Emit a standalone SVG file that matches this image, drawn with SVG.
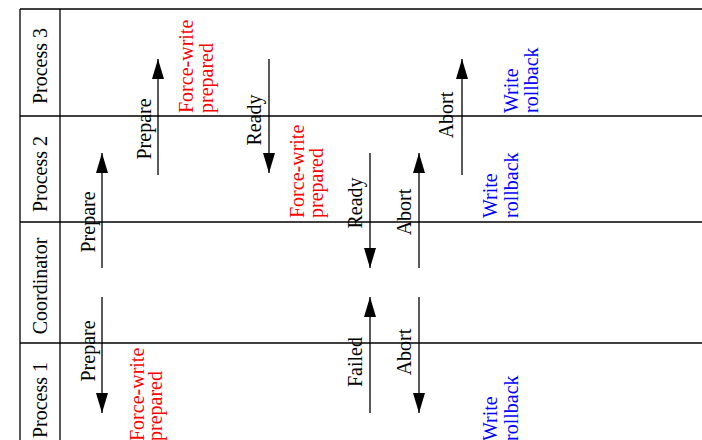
<svg xmlns="http://www.w3.org/2000/svg" width="702" height="440" viewBox="0 0 702 440">
  <style>
    .grid { stroke: #000; stroke-width: 1.3; fill: none; }
    .msg { stroke: #000; stroke-width: 1.3; fill: none; marker-end: url(#head); }
    text { font-family: "Liberation Serif", "Times New Roman", serif; font-size: 20px; }
    .lane { fill: #000; text-anchor: middle; }
    .lbl { fill: #000; text-anchor: middle; }
    .force { fill: #ff0000; }
    .roll { fill: #0000ff; }
  </style>
  <defs>
    <marker id="head" markerUnits="userSpaceOnUse" markerWidth="20" markerHeight="12" refX="20" refY="6" orient="auto">
      <path d="M0,0 L20,6 L0,12 Z" fill="#000"/>
    </marker>
  </defs>
  <rect width="702" height="440" fill="#fff"/>

  <!-- swimlane grid -->
  <g id="grid">
    <line class="grid" x1="20" y1="9" x2="702" y2="9"/>
    <line class="grid" x1="20" y1="116" x2="702" y2="116"/>
    <line class="grid" x1="20" y1="222" x2="702" y2="222"/>
    <line class="grid" x1="20" y1="343" x2="702" y2="343"/>
    <line class="grid" x1="20" y1="9" x2="20" y2="440"/>
    <line class="grid" x1="60" y1="9" x2="60" y2="440"/>
  </g>

  <!-- lane titles -->
  <g id="lane-process3"><text class="lane" transform="translate(47,66) rotate(-90)">Process 3</text></g>
  <g id="lane-process2"><text class="lane" transform="translate(47,174) rotate(-90)">Process 2</text></g>
  <g id="lane-coordinator"><text class="lane" transform="translate(47,286) rotate(-90)">Coordinator</text></g>
  <g id="lane-process1"><text class="lane" transform="translate(47,400) rotate(-90)">Process 1</text></g>

  <!-- messages -->
  <g id="connectors">
    <line class="msg" x1="102" y1="268" x2="102" y2="153"/>
    <line class="msg" x1="102" y1="297" x2="102" y2="413"/>
    <line class="msg" x1="158" y1="175" x2="158" y2="59"/>
    <line class="msg" x1="269" y1="59" x2="269" y2="173"/>
    <line class="msg" x1="370" y1="153" x2="370" y2="268"/>
    <line class="msg" x1="419" y1="268" x2="419" y2="153"/>
    <line class="msg" x1="462" y1="175" x2="462" y2="59"/>
    <line class="msg" x1="370" y1="413" x2="370" y2="297"/>
    <line class="msg" x1="419" y1="297" x2="419" y2="413"/>
  </g>

  <!-- message labels -->
  <g id="labels">
    <text class="lbl" transform="translate(95,222) rotate(-90)">Prepare</text>
    <text class="lbl" transform="translate(95,351) rotate(-90)">Prepare</text>
    <text class="lbl" transform="translate(151,129) rotate(-90)">Prepare</text>
    <text class="lbl" transform="translate(261,120) rotate(-90)">Ready</text>
    <text class="lbl" transform="translate(362,203) rotate(-90)">Ready</text>
    <text class="lbl" transform="translate(411,212) rotate(-90)">Abort</text>
    <text class="lbl" transform="translate(453,115) rotate(-90)">Abort</text>
    <text class="lbl" transform="translate(362,362) rotate(-90)">Failed</text>
    <text class="lbl" transform="translate(411,352) rotate(-90)">Abort</text>
  </g>

  <!-- local log writes -->
  <g id="force-write-p3">
    <text class="force" transform="translate(193,113) rotate(-90)">Force-write</text>
    <text class="force" transform="translate(213,113) rotate(-90)">prepared</text>
  </g>
  <g id="force-write-p2">
    <text class="force" transform="translate(304,218) rotate(-90)">Force-write</text>
    <text class="force" transform="translate(323,218) rotate(-90)">prepared</text>
  </g>
  <g id="force-write-p1">
    <text class="force" transform="translate(144,441) rotate(-90)">Force-write</text>
    <text class="force" transform="translate(162,441) rotate(-90)">prepared</text>
  </g>
  <g id="rollback-p3">
    <text class="roll" transform="translate(518,113) rotate(-90)">Write</text>
    <text class="roll" transform="translate(538,113) rotate(-90)">rollback</text>
  </g>
  <g id="rollback-p2">
    <text class="roll" transform="translate(497,218) rotate(-90)">Write</text>
    <text class="roll" transform="translate(518,218) rotate(-90)">rollback</text>
  </g>
  <g id="rollback-p1">
    <text class="roll" transform="translate(497,441) rotate(-90)">Write</text>
    <text class="roll" transform="translate(518,441) rotate(-90)">rollback</text>
  </g>
</svg>
